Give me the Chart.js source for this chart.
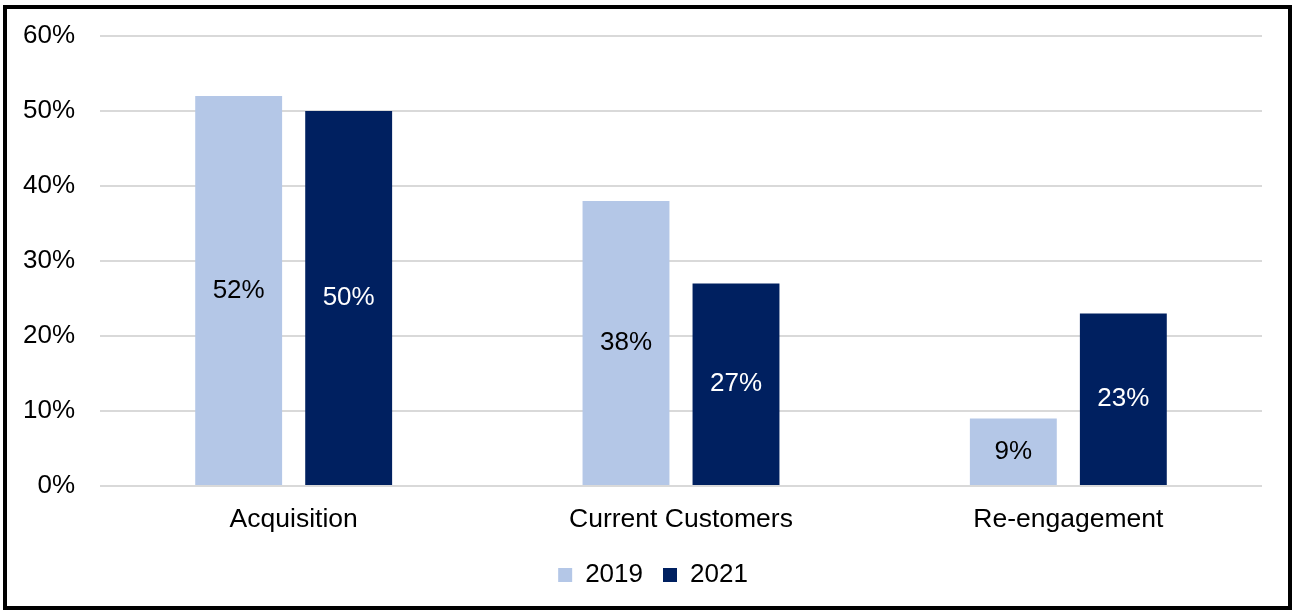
<!DOCTYPE html>
<html>
<head>
<meta charset="utf-8">
<script src="https://cdn.jsdelivr.net/npm/chart.js@4.4.1/dist/chart.umd.min.js"></script>
<style>
  html, body { margin: 0; padding: 0; background: #ffffff; }
  canvas { display: block; }
</style>
</head>
<body>
<canvas id="chart" width="1292" height="610"></canvas>
<script>
const categories = ['Acquisition', 'Current Customers', 'Re-engagement']
const seriesNames = ['2019', '2021']
const values2019 = [52, 38, 9]
const values2021 = [50, 27, 23]
const yTicks = [0, 10, 20, 30, 40, 50, 60]

const FONT = "'Liberation Sans', Arial, sans-serif"
const LIGHT = '#B4C7E7'
const NAVY = '#002060'
const GRID = '#D9D9D9'

// value labels centred inside each bar
const barLabels = {
    id: 'barLabels',
    afterDatasetsDraw(chart) {
        const { ctx } = chart
        ctx.save()
        ctx.font = `26px ${FONT}`
        ctx.textAlign = 'center'
        ctx.textBaseline = 'middle'
        chart.data.datasets.forEach((ds, i) => {
            const meta = chart.getDatasetMeta(i)
            ctx.fillStyle = i === 0 ? '#000000' : '#ffffff'
            meta.data.forEach((bar, j) => {
                const mid = (bar.y + bar.base) / 2
                ctx.fillText(ds.data[j] + '%', bar.x, mid)
            })
        })
        ctx.restore()
    }
}

// legend sits a little right of the canvas centre
const legendShift = {
    id: 'legendShift',
    afterLayout(chart) {
        if (!chart.legend) return
        chart.legend.left += 22
        chart.legend.right += 22
    }
}

// white page with a black frame
const frame = {
    id: 'frame',
    beforeDraw(chart) {
        const { ctx } = chart
        ctx.save()
        ctx.fillStyle = '#ffffff'
        ctx.fillRect(0, 0, chart.width, chart.height)
        ctx.restore()
    },
    afterDraw(chart) {
        const { ctx } = chart
        ctx.save()
        ctx.strokeStyle = '#000000'
        ctx.lineWidth = 4
        ctx.strokeRect(5, 7, 1285, 601)
        ctx.restore()
    }
}

new Chart(document.getElementById('chart'), {
    type: 'bar',
    data: {
        labels: categories,
        datasets: [
            { label: seriesNames[0], data: values2019, backgroundColor: LIGHT },
            { label: seriesNames[1], data: values2021, backgroundColor: NAVY }
        ]
    },
    options: {
        responsive: false,
        animation: false,
        devicePixelRatio: 1,
        categoryPercentage: 0.568,
        barPercentage: 0.79,
        layout: { padding: { top: 36, right: 30, left: 0, bottom: 12 } },
        scales: {
            x: {
                grid: { display: false },
                border: { display: false },
                ticks: { color: '#000000', padding: 10, font: { family: FONT, size: 26.5 } },
                afterFit(scale) { scale.height = 56 }
            },
            y: {
                min: 0, max: 60,
                afterBuildTicks(scale) { scale.ticks = yTicks.map(v => ({ value: v })) },
                grid: { color: GRID, lineWidth: 2, drawTicks: false },
                border: { display: false },
                ticks: { color: '#000000', padding: 25, font: { family: FONT, size: 26 }, callback: v => v + '%' },
                afterFit(scale) {
                    scale.width = 100
                    scale.paddingTop = 0
                    scale.paddingBottom = 0
                }
            }
        },
        plugins: {
            tooltip: { enabled: false },
            legend: {
                position: 'bottom',
                labels: { color: '#000000', boxWidth: 14, boxHeight: 14, padding: 20, font: { family: FONT, size: 26 } }
            }
        }
    },
    plugins: [barLabels, legendShift, frame]
})
</script>
</body>
</html>
